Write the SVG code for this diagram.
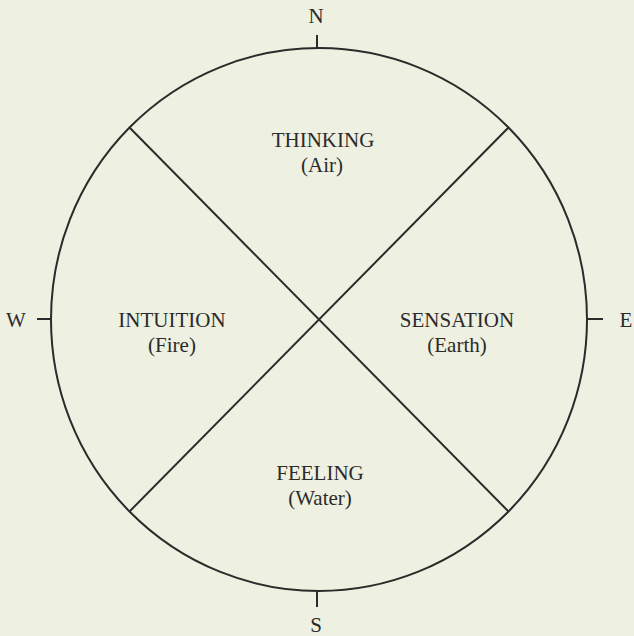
<svg xmlns="http://www.w3.org/2000/svg" width="634" height="636" viewBox="0 0 634 636">
<style>
.ln{stroke:#2b2b2b;stroke-width:2;fill:none}
.t{font-family:"Liberation Serif","Times New Roman",serif;font-size:21px;fill:#2b2b2b;text-anchor:middle}
</style>
<rect width="634" height="636" fill="#eef0e1"/>
<g id="connectors">
<ellipse class="ln" cx="319" cy="319.5" rx="268" ry="271.5"/>
<line class="ln" x1="129.5" y1="127.5" x2="508.5" y2="511.5"/>
<line class="ln" x1="508.5" y1="127.5" x2="129.5" y2="511.5"/>
<line class="ln" x1="317" y1="35" x2="317" y2="48"/>
<line class="ln" x1="317" y1="591" x2="317" y2="607"/>
<line class="ln" x1="37" y1="319" x2="51" y2="319"/>
<line class="ln" x1="587" y1="319" x2="603" y2="319"/>
</g>
<g id="n"><text class="t" x="316" y="23">N</text></g>
<g id="s"><text class="t" x="316" y="632">S</text></g>
<g id="w"><text class="t" x="16" y="327">W</text></g>
<g id="e"><text class="t" x="626" y="327">E</text></g>
<g id="thinking"><text class="t" x="323" y="147">THINKING</text><text class="t" x="322" y="172">(Air)</text></g>
<g id="intuition"><text class="t" x="172" y="327">INTUITION</text><text class="t" x="172" y="352">(Fire)</text></g>
<g id="sensation"><text class="t" x="457" y="327">SENSATION</text><text class="t" x="457" y="352">(Earth)</text></g>
<g id="feeling"><text class="t" x="320" y="480">FEELING</text><text class="t" x="320" y="505">(Water)</text></g>
</svg>
